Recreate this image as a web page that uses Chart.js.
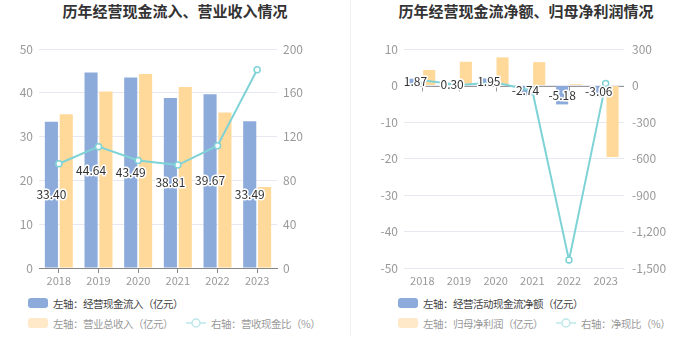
<!DOCTYPE html>
<html>
<head>
<meta charset="utf-8">
<script src="https://cdn.jsdelivr.net/npm/chart.js@4.4.0/dist/chart.umd.min.js"></script>
<style>
body{margin:0;width:700px;height:360px;background:#fff;position:relative;overflow:hidden;
  font-family:"Noto Sans CJK SC","Noto Sans",sans-serif}
.panel{position:absolute;top:0;width:350px;height:360px}
.title{position:absolute;top:0;left:0;width:100%;text-align:center;font-size:15px;font-weight:bold;color:#333}
.cv{position:absolute;top:0;left:0}
.legend{position:absolute;font-size:10.5px;letter-spacing:-0.5px;color:#444;display:flex;align-items:center;white-space:nowrap;height:14px}
.legend.dim{color:#999}
.sw{display:inline-block;width:20px;height:10px;border-radius:3px;margin-right:5px}
.gap{display:inline-block;width:13px}
</style>
</head>
<body>
<div class="panel" style="left:0">
  <div class="title">历年经营现金流入、营业收入情况</div>
  <canvas id="c1" class="cv" width="350" height="290"></canvas>
  <div class="legend" style="left:28px;top:296px"><span class="sw" style="background:#8CABDB"></span>左轴：经营现金流入（亿元）</div>
  <div class="legend dim" style="left:28px;top:316px"><span class="sw" style="background:#FFE9C8"></span>左轴：营业总收入（亿元）<span class="gap"></span>
    <svg width="20" height="12" style="margin-right:5px"><line x1="0" y1="6" x2="20" y2="6" stroke="#BDE8EA" stroke-width="1.5"/><circle cx="10" cy="6" r="4" fill="#fff" stroke="#BDE8EA" stroke-width="1.5"/></svg>右轴：营收现金比（%）</div>
</div>
<div class="panel" style="left:350px;border-left:1px solid #f0f0f0;height:336px">
  <div class="title">历年经营现金流净额、归母净利润情况</div>
  <canvas id="c2" class="cv" width="350" height="290"></canvas>
  <div class="legend" style="left:47px;top:296px"><span class="sw" style="background:#8CABDB"></span>左轴：经营活动现金流净额（亿元）</div>
  <div class="legend dim" style="left:47px;top:316px"><span class="sw" style="background:#FFE9C8"></span>左轴：归母净利润（亿元）<span class="gap"></span>
    <svg width="20" height="12" style="margin-right:5px"><line x1="0" y1="6" x2="20" y2="6" stroke="#BDE8EA" stroke-width="1.5"/><circle cx="10" cy="6" r="4" fill="#fff" stroke="#BDE8EA" stroke-width="1.5"/></svg>右轴：净现比（%）</div>
</div>
<script>
const years = ['2018', '2019', '2020', '2021', '2022', '2023'];

// left chart
const cashIn = [33.40, 44.64, 43.49, 38.81, 39.67, 33.49];
const revenue = [35.1, 40.3, 44.3, 41.3, 35.5, 18.5];
const cashRevRatio = [95.2, 110.8, 98.2, 94.0, 111.7, 181.0];
const leftAxis1 = [0, 50, 10];   // min, max, step
const rightAxis1 = [0, 200, 40];

// right chart
const netCash = [1.87, 0.30, 1.95, -2.74, -5.18, -3.06];
const netProfit = [4.26, 6.5, 7.7, 6.4, 0.36, -19.6];
const netCashRatio = [43.9, 4.6, 25.3, -42.8, -1435, 15.6];
const leftAxis2 = [-50, 10, 10];
const rightAxis2 = [-1500, 300, 300];

const BLUE = '#8CABDB', YELLOW = '#FFD999', TEAL = '#7FD3D7';
const FONT = '"Noto Sans CJK SC","Noto Sans",sans-serif';
Chart.defaults.font.family = FONT;
Chart.defaults.animation = false;

// value labels in the middle of the blue bars (dataset 1)
const barLabels = {
  id: 'barLabels',
  afterDatasetsDraw(chart) {
    const ctx = chart.ctx;
    const vals = chart.data.datasets[1].data;
    ctx.save();
    ctx.font = '12px ' + FONT;
    ctx.textAlign = 'center';
    ctx.textBaseline = 'middle';
    ctx.lineJoin = 'round';
    ctx.lineWidth = 3;
    ctx.strokeStyle = '#fff';
    ctx.fillStyle = '#333';
    chart.getDatasetMeta(1).data.forEach((bar, i) => {
      const y = (bar.y + bar.base) / 2;
      const t = vals[i].toFixed(2);
      ctx.strokeText(t, bar.x, y);
      ctx.fillText(t, bar.x, y);
    });
    ctx.restore();
  }
};

// x axis line through zero (right chart)
const zeroAxis = {
  id: 'zeroAxis',
  beforeDatasetsDraw(chart) {
    const { ctx, chartArea, scales } = chart;
    const y0 = Math.round(scales.y.getPixelForValue(0)) + 0.5;
    ctx.save();
    ctx.strokeStyle = '#999';
    ctx.lineWidth = 1;
    ctx.beginPath();
    ctx.moveTo(chartArea.left, y0);
    ctx.lineTo(chartArea.right, y0);
    years.forEach((_, i) => {
      const x = Math.round(scales.x.getPixelForValue(i)) + 0.5;
      ctx.moveTo(x, y0);
      ctx.lineTo(x, y0 + 5);
    });
    ctx.stroke();
    ctx.restore();
  }
};

function build(id, bars1, bars2, ratio, lAx, rAx, dims, zero) {
  const plugins = [barLabels];
  if (zero) plugins.unshift(zeroAxis);
  return new Chart(document.getElementById(id), {
    type: 'bar',
    data: {
      labels: years,
      datasets: [
        { type: 'line', data: ratio, yAxisID: 'y1', borderColor: TEAL, borderWidth: 2,
          pointRadius: 3, pointBackgroundColor: '#fff', pointBorderColor: TEAL, pointBorderWidth: 1.5,
          tension: 0, order: 0 },
        { data: bars1, yAxisID: 'y', backgroundColor: BLUE, categoryPercentage: 0.75, barPercentage: 0.88, order: 1 },
        { data: bars2, yAxisID: 'y', backgroundColor: YELLOW, categoryPercentage: 0.75, barPercentage: 0.88, order: 2 }
      ]
    },
    options: {
      responsive: false,
      layout: { padding: { top: 49, bottom: 0, left: 0, right: 0 } },
      plugins: { legend: { display: false }, tooltip: { enabled: false } },
      scales: {
        x: {
          grid: { drawOnChartArea: false, offset: false, tickLength: 5, color: zero ? 'rgba(0,0,0,0)' : '#888' },
          border: { display: !zero, color: '#888' },
          ticks: { color: '#999', font: { size: 11 }, padding: 1 },
          afterFit: s => { s.height = 22; }
        },
        y: {
          position: 'left', min: lAx[0], max: lAx[1],
          ticks: { stepSize: lAx[2], color: '#999', font: { size: 12 }, padding: 6 },
          grid: { color: '#E6E9F1', drawTicks: false },
          border: { display: false },
          afterFit: s => { s.width = dims[0]; }
        },
        y1: {
          position: 'right', min: rAx[0], max: rAx[1],
          ticks: { stepSize: rAx[2], color: '#999', font: { size: 12 }, padding: dims[2] },
          grid: { drawOnChartArea: false, drawTicks: false },
          border: { display: false },
          afterFit: s => { s.width = dims[1]; }
        }
      }
    },
    plugins
  });
}

build('c1', cashIn, revenue, cashRevRatio, leftAxis1, rightAxis1, [39, 73, 6], false);
build('c2', netCash, netProfit, netCashRatio, leftAxis2, rightAxis2, [53, 77, 8], true);
</script>
</body>
</html>
